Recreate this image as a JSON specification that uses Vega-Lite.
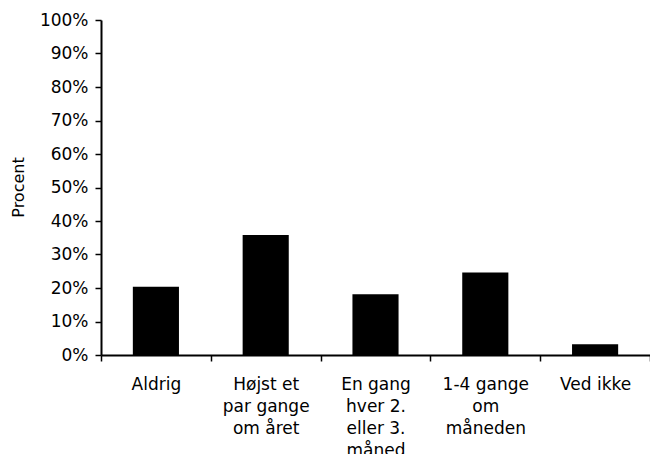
{
  "$schema": "https://vega.github.io/schema/vega-lite/v6.json",
  "autosize": {"type": "none"},
  "padding": {"left": 101, "top": 20, "right": 0, "bottom": 99},
  "width": 549,
  "height": 335,
  "background": "white",
  "data": {
    "values": [
      {"kategori": "Aldrig", "andel": 0.204},
      {"kategori": "Højst et\npar gange\nom året", "andel": 0.358},
      {"kategori": "En gang\nhver 2.\neller 3.\nmåned", "andel": 0.181},
      {"kategori": "1-4 gange\nom\nmåneden", "andel": 0.246},
      {"kategori": "Ved ikke", "andel": 0.032}
    ]
  },
  "config": {
    "view": {"stroke": null},
    "font": "DejaVu Sans",
    "axis": {
      "grid": false,
      "domainColor": "black",
      "domainWidth": 2,
      "tickColor": "black",
      "tickWidth": 1.5,
      "tickSize": 6,
      "labelColor": "black",
      "titleColor": "black",
      "labelFont": "DejaVu Sans",
      "titleFont": "DejaVu Sans",
      "labelFontSize": 17,
      "titleFontSize": 16,
      "titleFontWeight": "normal",
      "labelOverlap": false,
      "labelBound": false
    }
  },
  "mark": {"type": "bar", "color": "black", "width": {"band": 0.42}},
  "encoding": {
    "x": {
      "field": "kategori",
      "type": "nominal",
      "sort": null,
      "scale": {"paddingInner": 0, "paddingOuter": 0},
      "axis": {
        "title": null,
        "labelAngle": 0,
        "tickBand": "extent",
        "labelPadding": 15,
        "labelLineHeight": 22,
        "labelExpr": "split(datum.label, '\\n')"
      }
    },
    "y": {
      "field": "andel",
      "type": "quantitative",
      "scale": {"domain": [0, 1], "nice": false},
      "axis": {
        "title": "Procent",
        "format": ".0%",
        "values": [0, 0.1, 0.2, 0.3, 0.4, 0.5, 0.6, 0.7, 0.8, 0.9, 1],
        "labelPadding": 7,
        "titleX": -83,
        "titleY": 167,
        "titleAngle": -90,
        "titleBaseline": "middle"
      }
    }
  }
}
